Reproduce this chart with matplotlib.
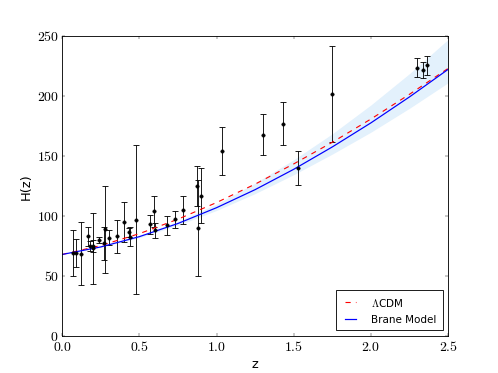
import matplotlib
matplotlib.use('Agg')
import matplotlib.pyplot as plt
from matplotlib.ticker import FormatStrFormatter

# observed H(z) data (z, H, sigma)
z_obs = [0.07, 0.09, 0.12, 0.17, 0.179, 0.199, 0.20, 0.24, 0.27, 0.28, 0.30,
         0.352, 0.40, 0.43, 0.44, 0.48, 0.57, 0.593, 0.60, 0.68, 0.73, 0.781,
         0.875, 0.88, 0.90, 1.037, 1.30, 1.43, 1.53, 1.75, 2.30, 2.34, 2.36]
H_obs = [69, 69, 68.6, 83, 75, 75, 72.9, 79.7, 77, 88.8, 81.7,
         83, 95, 86.5, 82.6, 97, 92.9, 104, 87.9, 92, 97.3, 105,
         125, 90, 117, 154, 168, 177, 140, 202, 224, 222, 226]
H_err = [19.6, 12, 26.2, 8, 4, 5, 29.6, 2.7, 14, 36.6, 6.2,
         14, 17, 3.7, 7.8, 62, 7.8, 13, 6.1, 8, 7, 12,
         17, 40, 23, 20, 17, 18, 14, 40, 8, 7, 8]

# model curves
z_model = [0.0, 0.25, 0.5, 0.75, 1.0, 1.25, 1.5, 1.75, 2.0, 2.25, 2.5]
H_lcdm = [67.8, 75.3, 85.2, 97.3, 111.2, 126.6, 143.5, 161.6, 181.0, 201.7, 223.3]
H_brane = [67.8, 74.1, 82.7, 93.7, 106.9, 122.0, 139.0, 157.7, 177.8, 199.5, 222.5]
H_brane_hi = [67.8, 74.4, 83.7, 95.6, 109.9, 127.5, 147.0, 168.7, 192.8, 219.0, 247.5]
H_brane_lo = [67.8, 73.8, 81.9, 92.2, 104.6, 118.7, 134.5, 151.7, 170.0, 190.0, 211.3]

plt.style.use('classic')
plt.rcParams['mathtext.fontset'] = 'cm'

fig, ax = plt.subplots(figsize=(8, 6.008), dpi=62.25)
fig.patch.set_facecolor('white')

ax.fill_between(z_model, H_brane_lo, H_brane_hi, facecolor='#e3f1fc', linewidth=0)
ax.errorbar(z_obs, H_obs, yerr=H_err, fmt='ko', ms=4, ecolor='k',
            elinewidth=1, capsize=3, capthick=1)
ax.plot(z_model, H_lcdm, 'r--', lw=1.3, label=r'$\Lambda$CDM')
ax.plot(z_model, H_brane, 'b-', lw=1.4, label='Brane Model')

ax.set_xlim(0, 2.5)
ax.set_ylim(0, 250)
ax.set_xticks([0.0, 0.5, 1.0, 1.5, 2.0, 2.5])
ax.set_yticks([0, 50, 100, 150, 200, 250])
ax.xaxis.set_major_formatter(FormatStrFormatter(r'$%.1f$'))
ax.yaxis.set_major_formatter(FormatStrFormatter(r'$%d$'))
ax.tick_params(labelsize=16)
ax.set_xlabel('z', fontsize=15)
ax.set_ylabel('H(z)', fontsize=15)

ax.legend(loc='lower right', fontsize=12, handlelength=1.6,
          handletextpad=1.2, borderpad=0.6, labelspacing=0.6)

fig.savefig('out.png', dpi=62.25, facecolor='white')
